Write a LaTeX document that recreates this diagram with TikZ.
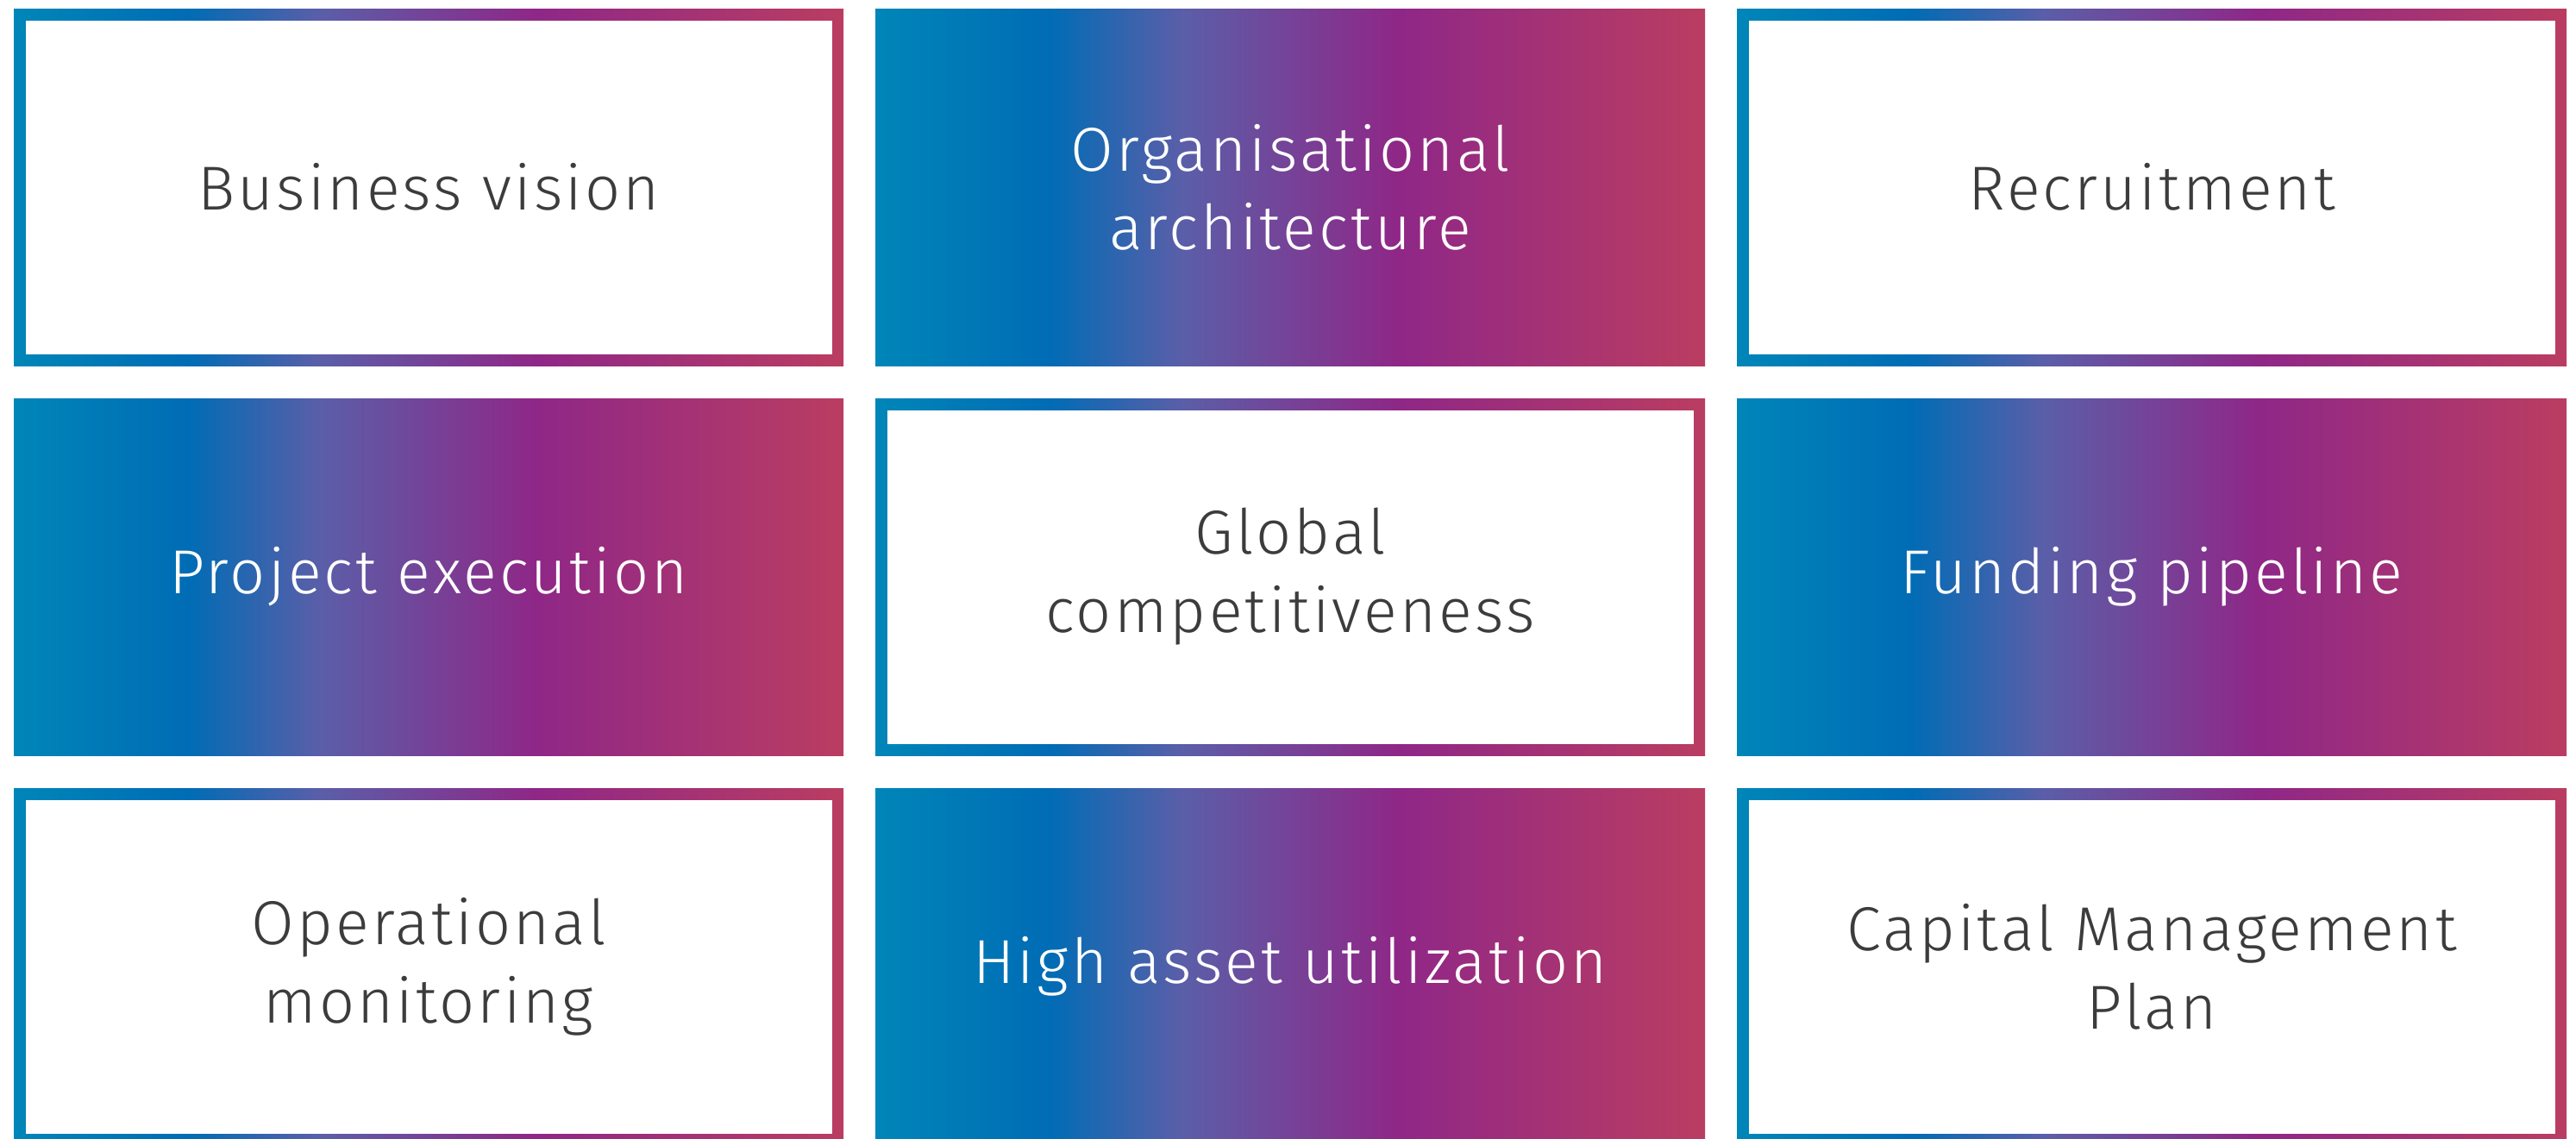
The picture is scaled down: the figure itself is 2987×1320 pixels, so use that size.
\documentclass[tikz,border=0pt]{standalone}
\usepackage{fontspec}
\setmainfont{Fira Sans}[UprightFont={* Light},LetterSpace=4.5]
\definecolor{cA}{HTML}{0086B8}
\definecolor{cB}{HTML}{006CB5}
\definecolor{cC}{HTML}{5B5EA8}
\definecolor{cD}{HTML}{8F2787}
\definecolor{cE}{HTML}{BA3D61}
\definecolor{txt}{HTML}{3C3C3C}
\pgfdeclarehorizontalshading{brand}{100bp}{color(0bp)=(cA); color(25bp)=(cA); color(35.5bp)=(cB); color(43.5bp)=(cC); color(56.5bp)=(cD); color(75bp)=(cE); color(100bp)=(cE)}
\tikzset{
  tile/.style={rectangle, inner sep=0pt, outer sep=0pt, minimum width=240.5pt, minimum height=103.5pt,
    shading=brand, align=center, font=\fontsize{18}{22.8}\selectfont},
  filled/.style={tile, text=white},
  outlined/.style={tile, text=txt,
    path picture={\fill[white] ([shift={(13.5,13.5)}]path picture bounding box.north west) rectangle ([shift={(-13.5,-13.5)}]path picture bounding box.south east);}}
}
\begin{document}
\begin{tikzpicture}[x=0.25pt,y=-0.25pt]
\useasboundingbox (0,0) rectangle (2987,1320);
\node[outlined] (b11) at (497,217) {Business vision};
\node[filled]   (b12) at (1496,217) {Organisational\\architecture};
\node[outlined] (b13) at (2495,217) {Recruitment};
\node[filled]   (b21) at (497,669) {Project execution};
\node[outlined] (b22) at (1496,669) {Global\\competitiveness};
\node[filled]   (b23) at (2495,669) {Funding pipeline};
\node[outlined] (b31) at (497,1121) {Operational\\monitoring};
\node[filled]   (b32) at (1496,1121) {High asset utilization};
\node[outlined] (b33) at (2495,1121) {Capital Management\\Plan};
\end{tikzpicture}
\end{document}
